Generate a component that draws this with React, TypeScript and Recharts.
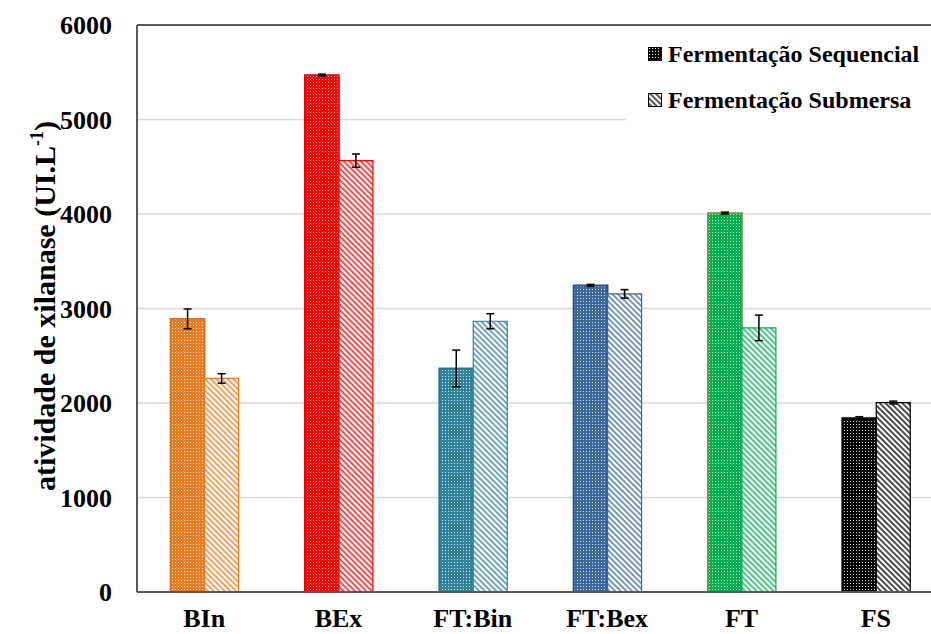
import { BarChart, Bar, XAxis, YAxis, CartesianGrid, Cell, ErrorBar, ReferenceLine } from 'recharts';

const categories = ['BIn', 'BEx', 'FT:Bin', 'FT:Bex', 'FT', 'FS'];
const sequencial = [2890, 5470, 2365, 3245, 4010, 1840];
const sequencialErr = [105, 10, 195, 10, 10, 15];
const submersa = [2260, 4565, 2865, 3155, 2795, 2005];
const submersaErr = [50, 70, 80, 45, 135, 15];
const yTicks = [0, 1000, 2000, 3000, 4000, 5000, 6000];

const fills = ['#EC7C22', '#FF0000', '#31849B', '#3D6A9E', '#00B050', '#000000'];
const borders = ['#E07018', '#F00000', '#2A7890', '#284E7A', '#77933C', '#000000'];

const data = categories.map((name, i) => ({
  name,
  seq: sequencial[i],
  seqErr: sequencialErr[i],
  sub: submersa[i],
  subErr: submersaErr[i],
}));

const serif = '"Liberation Serif", "Times New Roman", serif';

function YLabel() {
  return (
    <text
      x={55}
      y={306}
      transform="rotate(-90, 55, 306)"
      textAnchor="middle"
      fontFamily={serif}
      fontWeight="bold"
      fontSize={30}
      fill="#000"
    >
      atividade de xilanase (UI.L
      <tspan dy={-12} fontSize={18}>-1</tspan>
      <tspan dy={12}>)</tspan>
    </text>
  );
}

function LegendBox() {
  const row = { display: 'flex', alignItems: 'center', height: 46 };
  const text = { fontFamily: serif, fontWeight: 'bold' as const, fontSize: 24, marginLeft: 6, whiteSpace: 'nowrap' as const };
  return (
    <div style={{ position: 'absolute', left: 626, top: 31, width: 310, height: 94, background: '#fff', paddingLeft: 22, boxSizing: 'border-box' }}>
      <div style={row}>
        <svg width={14} height={14}>
          <defs>
            <pattern id="lgSeq" width={3} height={3} patternUnits="userSpaceOnUse">
              <rect width={3} height={3} fill="#000" />
              <rect x={1} y={1} width={1} height={1} fill="#fff" />
            </pattern>
          </defs>
          <rect x={0.5} y={0.5} width={13} height={13} fill="url(#lgSeq)" stroke="#000" />
        </svg>
        <span style={text}>Fermentação Sequencial</span>
      </div>
      <div style={row}>
        <svg width={14} height={14}>
          <defs>
            <pattern id="lgSub" width={4} height={4} patternUnits="userSpaceOnUse" patternTransform="rotate(-45)">
              <rect width={4} height={4} fill="#fff" />
              <line x1={1} y1={0} x2={1} y2={4} stroke="#000" strokeWidth={1.3} />
            </pattern>
          </defs>
          <rect x={0.5} y={0.5} width={13} height={13} fill="url(#lgSub)" stroke="#000" />
        </svg>
        <span style={text}>Fermentação Submersa</span>
      </div>
    </div>
  );
}

export default function App() {
  return (
    <div style={{ position: 'absolute', left: 0, top: 0, width: 931, height: 634, overflow: 'hidden', background: '#fff' }}>
      <BarChart
        width={960}
        height={634}
        data={data}
        margin={{ top: 25, right: 17, bottom: 0, left: 0 }}
        barCategoryGap="25%"
        barGap={0}
      >
        <defs>
          {fills.map((c, i) => (
            <pattern key={`seq${i}`} id={`seq${i}`} width={3} height={3} patternUnits="userSpaceOnUse">
              <rect width={3} height={3} fill={c} />
              <rect x={1} y={1} width={1} height={1} fill="#fff" opacity={0.8} />
            </pattern>
          ))}
          {fills.map((c, i) => (
            <pattern key={`sub${i}`} id={`sub${i}`} width={4} height={4} patternUnits="userSpaceOnUse" patternTransform="rotate(-45)">
              <rect width={4} height={4} fill="#fff" />
              <line x1={1} y1={0} x2={1} y2={4} stroke={c} strokeWidth={1.4} />
            </pattern>
          ))}
        </defs>
        <CartesianGrid vertical={false} stroke="#D9D9D9" strokeWidth={1.5} />
        <XAxis
          dataKey="name"
          height={42}
          tickLine={false}
          tickSize={0}
          tickMargin={17}
          axisLine={{ stroke: '#595959', strokeWidth: 2 }}
          tick={{ fontFamily: serif, fontWeight: 'bold', fontSize: 26, fill: '#000' }}
        />
        <YAxis
          width={137}
          domain={[0, 6000]}
          ticks={yTicks}
          interval={0}
          tickLine={false}
          tickSize={0}
          tickMargin={25}
          axisLine={{ stroke: '#595959', strokeWidth: 2 }}
          tick={{ fontFamily: serif, fontWeight: 'bold', fontSize: 26, fill: '#000' }}
          label={<YLabel />}
        />
        <ReferenceLine y={6000} stroke="#595959" strokeWidth={2} />
        <Bar dataKey="seq" isAnimationActive={false}>
          {data.map((_, i) => (
            <Cell key={i} fill={`url(#seq${i})`} stroke={borders[i]} strokeWidth={1.8} />
          ))}
          <ErrorBar dataKey="seqErr" width={4} stroke="#000" strokeWidth={1.5} />
        </Bar>
        <Bar dataKey="sub" isAnimationActive={false}>
          {data.map((_, i) => (
            <Cell key={i} fill={`url(#sub${i})`} stroke={fills[i]} strokeWidth={1.2} />
          ))}
          <ErrorBar dataKey="subErr" width={4} stroke="#000" strokeWidth={1.5} />
        </Bar>
      </BarChart>
      <LegendBox />
    </div>
  );
}
